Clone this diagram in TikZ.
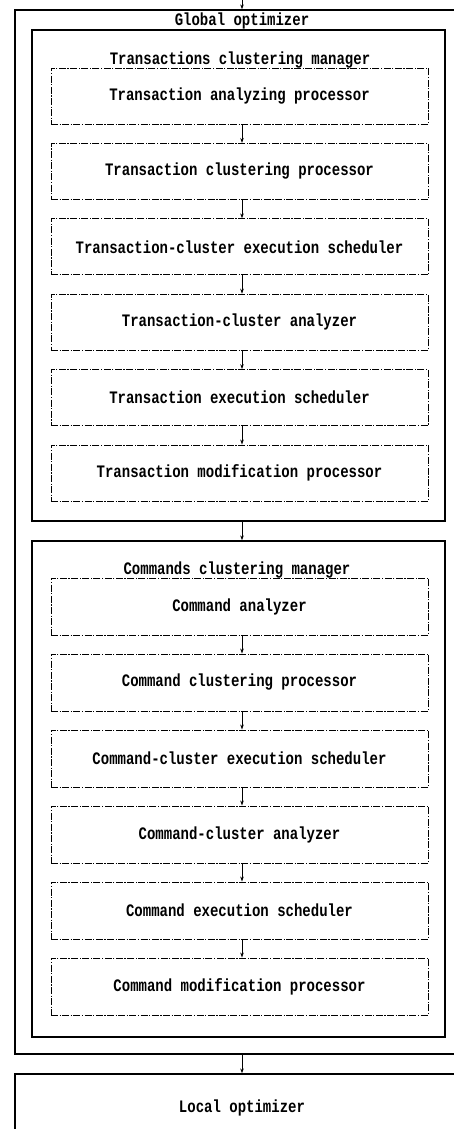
\documentclass[tikz,border=0pt]{standalone}
\usepackage{graphicx}
\usepackage{fontspec}
\setmonofont{Liberation Mono}
\usetikzlibrary{arrows.meta}
% tall, narrow lettering for all labels
\newcommand\tallword[1]{\scalebox{1}[1.25]{#1}}
\begin{document}
\begin{tikzpicture}[x=1pt,y=-1pt,
  lbl/.style={font=\ttfamily\bfseries\fontsize{14}{16}\selectfont},
  frame/.style={draw,line width=1.3pt,rectangle,inner sep=0pt},
  stepbox/.style={draw,line width=0.9pt,rectangle,inner sep=0pt,
    minimum width=377pt,minimum height=56pt,
    dash pattern=on 7pt off 1.5pt on 1.2pt off 1.5pt,
    font=\ttfamily\bfseries\fontsize{14}{16}\selectfont},
  flow/.style={line width=0.8pt,-{Stealth[length=5pt,width=3.5pt]}}]
\clip (0,0) rectangle (454,1129);
\useasboundingbox (0,0) rectangle (454,1129);
\fill[white] (0,0) rectangle (454,1129);

% column used by all vertical connectors
\coordinate (spine) at (242,0);

% outer frames
\node[frame,minimum width=455pt,minimum height=1044pt] (glob) at (242.5,532) {};
\node[lbl,anchor=base] (globt) at (242,26) {\tallword{Global optimizer}};
\node[frame,minimum width=413pt,minimum height=491pt] (tcm) at (238.5,275.5) {};
\node[lbl,anchor=base] (tcmt) at (240,65) {\tallword{Transactions clustering manager}};
\node[frame,minimum width=413pt,minimum height=496pt] (ccm) at (238.5,789) {};
\node[lbl,anchor=base] (ccmt) at (237,574) {\tallword{Commands clustering manager}};
\node[frame,minimum width=455pt,minimum height=76pt,lbl] (loc) at (242.5,1112) {};
\node[lbl,anchor=base] (loct) at (242,1112) {\tallword{Local optimizer}};

% transaction stages
\node[stepbox] (t1) at (239.5,96) {\tallword{Transaction analyzing processor}};
\node[stepbox] (t2) at (239.5,171.4) {\tallword{Transaction clustering processor}};
\node[stepbox] (t3) at (239.5,246.8) {\tallword{Transaction-cluster execution scheduler}};
\node[stepbox] (t4) at (239.5,322.2) {\tallword{Transaction-cluster analyzer}};
\node[stepbox] (t5) at (239.5,397.6) {\tallword{Transaction execution scheduler}};
\node[stepbox] (t6) at (239.5,473) {\tallword{Transaction modification processor}};

% command stages
\node[stepbox,minimum height=57pt] (c1) at (239.5,606.5) {\tallword{Command analyzer}};
\node[stepbox,minimum height=57pt] (c2) at (239.5,682.5) {\tallword{Command clustering processor}};
\node[stepbox,minimum height=57pt] (c3) at (239.5,758.5) {\tallword{Command-cluster execution scheduler}};
\node[stepbox,minimum height=57pt] (c4) at (239.5,834.5) {\tallword{Command-cluster analyzer}};
\node[stepbox,minimum height=57pt] (c5) at (239.5,910.5) {\tallword{Command execution scheduler}};
\node[stepbox,minimum height=57pt] (c6) at (239.5,986.5) {\tallword{Command modification processor}};

% connectors
\draw[flow] (spine) -- (glob.north -| spine);
\foreach \a/\b in {t1/t2,t2/t3,t3/t4,t4/t5,t5/t6,c1/c2,c2/c3,c3/c4,c4/c5,c5/c6,tcm/ccm,glob/loc}
  \draw[flow] (\a.south -| spine) -- (\b.north -| spine);
\end{tikzpicture}
\end{document}
